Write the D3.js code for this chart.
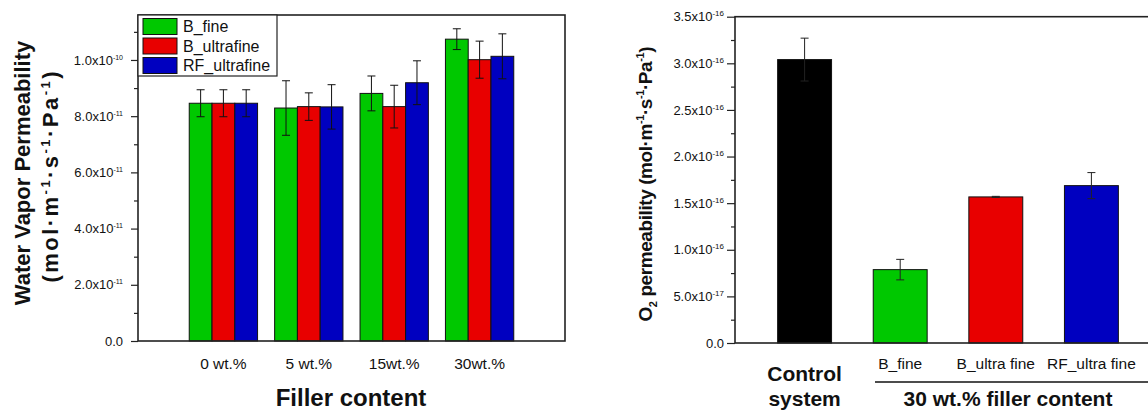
<!DOCTYPE html>
<html>
<head>
<meta charset="utf-8">
<script src="https://cdn.jsdelivr.net/npm/d3@7"></script>
<style>
  body { margin: 0; background: #fff; }
  svg { font-family: "Liberation Sans", Arial, sans-serif; display: block; }
</style>
</head>
<body>
<script>
// left panel: water vapor permeability
const wvpGroups = ['0 wt.%', '5 wt.%', '15wt.%', '30wt.%']
const wvpSeries = ['B_fine', 'B_ultrafine', 'RF_ultrafine']
const wvpBFine = [8.46e-11, 8.29e-11, 8.81e-11, 10.74e-11]
const wvpBFineErr = [0.48e-11, 0.97e-11, 0.62e-11, 0.37e-11]
const wvpBUltra = [8.46e-11, 8.34e-11, 8.34e-11, 10.01e-11]
const wvpBUltraErr = [0.48e-11, 0.49e-11, 0.76e-11, 0.66e-11]
const wvpRF = [8.46e-11, 8.33e-11, 9.19e-11, 10.13e-11]
const wvpRFErr = [0.48e-11, 0.79e-11, 0.78e-11, 0.80e-11]
const wvpTicks = [0, 2e-11, 4e-11, 6e-11, 8e-11, 1e-10]

// right panel: O2 permeability
const o2Labels = ['Control', 'B_fine', 'B_ultra fine', 'RF_ultra fine']
const o2Values = [3.04e-16, 0.787e-16, 1.567e-16, 1.688e-16]
const o2Err = [0.23e-16, 0.11e-16, 0.006e-16, 0.14e-16]
const o2Ticks = [0, 0.5e-16, 1e-16, 1.5e-16, 2e-16, 2.5e-16, 3e-16, 3.5e-16]

const seriesColors = ['#00c800', '#e80000', '#0000c0']
const o2Colors = ['#000000', '#00c800', '#e80000', '#0000c0']
const fontFam = '"Liberation Sans", Arial, sans-serif'

let svg = d3.select('body')
  .append('svg')
  .attr('width', 1148)
  .attr('height', 410)

// tick label like 1.0x10^-10
const sciLabel = function(sel, supSize) {
  sel.each(function(d) {
    let t = d3.select(this).text('')
    if (d === 0) { t.text('0.0'); return }
    let parts = d.toExponential(1).split('e')
    t.append('tspan').text(parts[0] + 'x10')
    t.append('tspan').attr('dy', -5).attr('font-size', supSize).text(parts[1].replace('+', ''))
  })
}

// ---------- left chart ----------
let x0 = d3.scaleBand().domain(wvpGroups).range([138, 565]).paddingInner(0.2).paddingOuter(0.6)
let x1 = d3.scaleBand().domain(wvpSeries).range([0, x0.bandwidth()])
let y0 = d3.scaleLinear().domain([0, 1.16e-10]).range([341, 15])

let wvpRows = wvpGroups.map((g, i) => ({
  group: g,
  bars: [
    { s: wvpSeries[0], v: wvpBFine[i], e: wvpBFineErr[i] },
    { s: wvpSeries[1], v: wvpBUltra[i], e: wvpBUltraErr[i] },
    { s: wvpSeries[2], v: wvpRF[i], e: wvpRFErr[i] }
  ]
}))

let left = svg.append('g')

let groups = left.selectAll('g.grp')
  .data(wvpRows)
  .join('g')
  .attr('class', 'grp')
  .attr('transform', d => `translate(${x0(d.group)},0)`)

groups.selectAll('rect')
  .data(d => d.bars)
  .join('rect')
  .attr('x', d => x1(d.s))
  .attr('y', d => y0(d.v))
  .attr('width', x1.bandwidth())
  .attr('height', d => y0(0) - y0(d.v))
  .attr('fill', (d, i) => seriesColors[i])
  .attr('stroke', '#111')
  .attr('stroke-width', 1)

let eb = groups.selectAll('g.err')
  .data(d => d.bars)
  .join('g')
  .attr('class', 'err')
  .attr('transform', d => `translate(${x1(d.s) + x1.bandwidth() / 2},0)`)
eb.append('line').attr('y1', d => y0(d.v + d.e)).attr('y2', d => y0(d.v - d.e))
eb.append('line').attr('x1', -4).attr('x2', 4).attr('y1', d => y0(d.v + d.e)).attr('y2', d => y0(d.v + d.e))
eb.append('line').attr('x1', -4).attr('x2', 4).attr('y1', d => y0(d.v - d.e)).attr('y2', d => y0(d.v - d.e))
eb.selectAll('line').attr('stroke', '#111').attr('stroke-width', 1)

// frame
left.append('rect')
  .attr('x', 138).attr('y', 15).attr('width', 565 - 138).attr('height', 341 - 15)
  .attr('fill', 'none').attr('stroke', '#222').attr('stroke-width', 1.6)

let yAxisL = left.append('g').attr('transform', 'translate(138,0)')
  .call(d3.axisLeft(y0).tickValues(wvpTicks).tickSize(7).tickPadding(8))
  .attr('font-family', fontFam)
yAxisL.select('.domain').remove()
yAxisL.selectAll('text').attr('font-size', 13).attr('fill', '#111').call(sciLabel, 7)
yAxisL.selectAll('line').attr('stroke', '#222').attr('stroke-width', 1.2)

let minorL = d3.range(1, 12).map(i => i * 1e-11).filter(v => !wvpTicks.some(t => Math.abs(t - v) < 1e-13))
let yMinorL = left.append('g').attr('transform', 'translate(138,0)')
  .call(d3.axisLeft(y0).tickValues(minorL).tickSize(4).tickFormat(''))
yMinorL.select('.domain').remove()
yMinorL.selectAll('line').attr('stroke', '#222').attr('stroke-width', 1.2)

left.selectAll('text.xl')
  .data(wvpGroups)
  .join('text')
  .attr('class', 'xl')
  .attr('x', d => x0(d) + x0.bandwidth() / 2)
  .attr('y', 369)
  .attr('text-anchor', 'middle')
  .attr('font-size', 15.5)
  .attr('fill', '#111')
  .text(d => d)

// legend
let legend = left.append('g')
legend.append('rect')
  .attr('x', 138).attr('y', 15).attr('width', 139).attr('height', 61)
  .attr('fill', '#fff').attr('stroke', '#222').attr('stroke-width', 1.2)
let li = legend.selectAll('g.li')
  .data(wvpSeries)
  .join('g')
  .attr('class', 'li')
  .attr('transform', (d, i) => `translate(143,${18.5 + i * 19.5})`)
li.append('rect').attr('width', 34).attr('height', 16)
  .attr('fill', (d, i) => seriesColors[i]).attr('stroke', '#111')
li.append('text').attr('x', 40).attr('y', 13.5).attr('font-size', 16).attr('fill', '#111').text(d => d)

left.append('text')
  .attr('x', 351).attr('y', 406)
  .attr('text-anchor', 'middle')
  .attr('font-size', 24).attr('font-weight', 'bold').attr('fill', '#111')
  .text('Filler content')

left.append('text')
  .attr('transform', 'translate(30,173) rotate(-90)')
  .attr('text-anchor', 'middle')
  .attr('font-size', 22).attr('font-weight', 'bold').attr('fill', '#111')
  .text('Water Vapor Permeability')

let unitL = left.append('text')
  .attr('transform', 'translate(58,177) rotate(-90)')
  .attr('text-anchor', 'middle')
  .attr('font-size', 22).attr('font-weight', 'bold').attr('fill', '#111')
  .attr('textLength', 211).attr('lengthAdjust', 'spacing')
const unitParts = [['(mol\u00b7m', 0], ['-1', 1], ['\u00b7s', 0], ['-1', 1], ['\u00b7Pa', 0], ['-1', 1], [')', 0]]
const addUnit = function(t, parts, supSize) {
  let up = false
  parts.forEach(p => {
    let ts = t.append('tspan').text(p[0])
    if (p[1] && !up) { ts.attr('dy', -8).attr('font-size', supSize); up = true }
    else if (!p[1] && up) { ts.attr('dy', 8); up = false }
  })
}
addUnit(unitL, unitParts, 13)

// ---------- right chart ----------
let xr = d3.scaleBand().domain(o2Labels).range([735, 1161]).paddingInner(0.436).paddingOuter(0.446)
let yr = d3.scaleLinear().domain([0, 3.5e-16]).range([343, 16.7])

let right = svg.append('g')

right.selectAll('rect.bar')
  .data(o2Labels)
  .join('rect')
  .attr('class', 'bar')
  .attr('x', d => xr(d))
  .attr('y', (d, i) => yr(o2Values[i]))
  .attr('width', xr.bandwidth())
  .attr('height', (d, i) => yr(0) - yr(o2Values[i]))
  .attr('fill', (d, i) => o2Colors[i])
  .attr('stroke', '#111')

let ebr = right.selectAll('g.err')
  .data(o2Labels)
  .join('g')
  .attr('class', 'err')
  .attr('transform', d => `translate(${xr(d) + xr.bandwidth() / 2},0)`)
ebr.append('line').attr('y1', (d, i) => yr(o2Values[i] + o2Err[i])).attr('y2', (d, i) => yr(o2Values[i] - o2Err[i]))
ebr.append('line').attr('x1', -4).attr('x2', 4)
  .attr('y1', (d, i) => yr(o2Values[i] + o2Err[i])).attr('y2', (d, i) => yr(o2Values[i] + o2Err[i]))
ebr.append('line').attr('x1', -4).attr('x2', 4)
  .attr('y1', (d, i) => yr(o2Values[i] - o2Err[i])).attr('y2', (d, i) => yr(o2Values[i] - o2Err[i]))
ebr.selectAll('line').attr('stroke', '#222').attr('stroke-width', 1)

right.append('rect')
  .attr('x', 735).attr('y', 16.7).attr('width', 1161 - 735).attr('height', 343 - 16.7)
  .attr('fill', 'none').attr('stroke', '#222').attr('stroke-width', 1.6)

let yAxisR = right.append('g').attr('transform', 'translate(735,0)')
  .call(d3.axisLeft(yr).tickValues(o2Ticks).tickSize(8).tickPadding(3))
  .attr('font-family', fontFam)
yAxisR.select('.domain').remove()
yAxisR.selectAll('text').attr('font-size', 13).attr('fill', '#111').call(sciLabel, 8)
yAxisR.selectAll('line').attr('stroke', '#222').attr('stroke-width', 1.2)

let minorR = d3.range(0, 7).map(i => (i + 0.5) * 0.5e-16)
let yMinorR = right.append('g').attr('transform', 'translate(735,0)')
  .call(d3.axisLeft(yr).tickValues(minorR).tickSize(4).tickFormat(''))
yMinorR.select('.domain').remove()
yMinorR.selectAll('line').attr('stroke', '#222').attr('stroke-width', 1.2)

right.selectAll('text.xl')
  .data(o2Labels.slice(1))
  .join('text')
  .attr('class', 'xl')
  .attr('x', d => xr(d) + xr.bandwidth() / 2)
  .attr('y', 369)
  .attr('text-anchor', 'middle')
  .attr('font-size', 15.5)
  .attr('fill', '#111')
  .text(d => d)

let cx = xr(o2Labels[0]) + xr.bandwidth() / 2
let ctrl = right.append('text')
  .attr('x', cx)
  .attr('text-anchor', 'middle')
  .attr('font-size', 21).attr('font-weight', 'bold').attr('fill', '#111')
ctrl.append('tspan').attr('x', cx).attr('y', 381).text('Control')
ctrl.append('tspan').attr('x', cx).attr('y', 406).text('system')

right.append('line')
  .attr('x1', 875).attr('x2', 1148).attr('y1', 382).attr('y2', 382)
  .attr('stroke', '#111').attr('stroke-width', 1.5)

right.append('text')
  .attr('x', 1008).attr('y', 406)
  .attr('text-anchor', 'middle')
  .attr('font-size', 21).attr('font-weight', 'bold').attr('fill', '#111')
  .text('30 wt.% filler content')

let titleR = right.append('text')
  .attr('transform', 'translate(652,184) rotate(-90)')
  .attr('text-anchor', 'middle')
  .attr('font-size', 19).attr('font-weight', 'bold').attr('fill', '#111')
  .attr('textLength', 275).attr('lengthAdjust', 'spacing')
titleR.append('tspan').text('O')
titleR.append('tspan').attr('dy', 5).attr('font-size', 11).text('2')
titleR.append('tspan').attr('dy', -5).text(' permeability ')
addUnit(titleR, unitParts, 11)
</script>
</body>
</html>
